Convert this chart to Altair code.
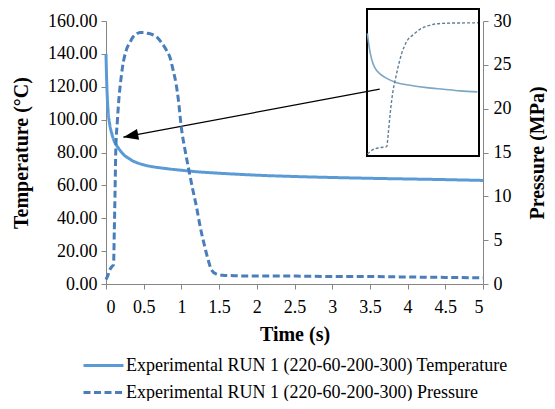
import altair as alt
import pandas as pd

# ---------------- data ----------------
T_NAME = "Experimental RUN 1 (220-60-200-300) Temperature"
P_NAME = "Experimental RUN 1 (220-60-200-300) Pressure"

temp_t = [0, 0.01, 0.02, 0.03, 0.05, 0.08, 0.1, 0.13, 0.16, 0.2, 0.25, 0.3, 0.35, 0.4,
          0.5, 0.6, 0.7, 0.8, 1.0, 1.2, 1.5, 2.0, 2.5, 3.0, 3.5, 4.0, 4.5, 5.0]
temp_v = [140, 122, 111, 104, 97, 91, 88, 85, 83, 80.5, 78, 76.5, 75, 74,
          72.5, 71.5, 70.8, 70.2, 69.2, 68.3, 67.4, 66.2, 65.4, 64.8, 64.3, 63.9, 63.5, 63.0]

pres_t = [0, 0.03, 0.05, 0.08, 0.1, 0.11, 0.12, 0.13, 0.15, 0.17, 0.2, 0.22, 0.27, 0.32,
          0.36, 0.4, 0.45, 0.5, 0.55, 0.6, 0.67, 0.74, 0.8, 0.85, 0.89, 0.93, 0.96, 1.0,
          1.05, 1.09, 1.15, 1.2, 1.25, 1.31, 1.36, 1.4, 1.46, 1.55, 1.7, 2.0, 2.5, 3.0,
          3.5, 4.0, 4.5, 5.0]
pres_v = [0.5, 1.1, 1.6, 2.0, 2.2, 6.0, 10.5, 15.3, 18.5, 21, 23.5, 24.8, 26.7, 27.6,
          28.2, 28.5, 28.7, 28.7, 28.6, 28.5, 28.2, 27.5, 26.7, 25.8, 24.4, 22.8, 21, 17.8,
          15.2, 13.4, 10.8, 8.8, 6.5, 4.25, 2.6, 1.6, 1.15, 1.0, 0.95, 0.9, 0.9, 0.85,
          0.85, 0.8, 0.75, 0.7]

# arrow (time, temperature) from inset to curve
arrow_tail = [3.63, 118.6]
arrow_tip = [0.23, 89.3]

# inset (zoomed picture), normalised 0-1 coordinates
inset_solid_x = [0.003, 0.021, 0.042, 0.071, 0.116, 0.176, 0.265, 0.384, 0.533, 0.681, 0.830, 0.985]
inset_solid_y = [0.834, 0.734, 0.656, 0.599, 0.559, 0.528, 0.499, 0.481, 0.465, 0.454, 0.443, 0.436]
inset_dash_x = [0.004, 0.045, 0.116, 0.176, 0.19, 0.205, 0.22, 0.235, 0.25, 0.277, 0.31, 0.354,
                0.414, 0.473, 0.533, 0.622, 0.741, 0.991]
inset_dash_y = [0.013, 0.040, 0.057, 0.064, 0.154, 0.275, 0.376, 0.456, 0.51, 0.604, 0.698, 0.779,
                0.826, 0.862, 0.883, 0.899, 0.904, 0.906]

C_T = "#5B9BD5"
C_P = "#4A7EBB"
FONT = "Liberation Serif"
W, H = 377, 263

temp_df = pd.DataFrame({"t": temp_t, "v": temp_v, "series": T_NAME})
pres_df = pd.DataFrame({"t": pres_t, "v": pres_v, "series": P_NAME})
arrow_df = pd.DataFrame({"t": [arrow_tail[0]], "v": [arrow_tail[1]],
                         "t2": [arrow_tip[0]], "v2": [arrow_tip[1]]})
tip_df = pd.DataFrame({"t": [arrow_tip[0]], "v": [arrow_tip[1]]})
in_s = pd.DataFrame({"x": inset_solid_x, "y": inset_solid_y})
in_d = pd.DataFrame({"x": inset_dash_x, "y": inset_dash_y})
in_box = pd.DataFrame({"x": [0.0], "x2": [1.0], "y": [0.0], "y2": [1.0]})

axis_common = dict(grid=False, domainColor="#868686", tickColor="#868686", tickSize=5,
                   labelFont=FONT, labelFontSize=18, labelColor="black",
                   titleFont=FONT, titleFontSize=20, titleFontWeight="bold", titleColor="black")

xscale = alt.Scale(domain=[0, 5], nice=False, zero=False)
x_axis = alt.Axis(values=[0, 0.5, 1, 1.5, 2, 2.5, 3, 3.5, 4, 4.5, 5], format="~g",
                  title="Time (s)", labelPadding=9, titlePadding=8, **axis_common)
tscale = alt.Scale(domain=[0, 160], nice=False)
pscale = alt.Scale(domain=[0, 30], nice=False)
t_axis = alt.Axis(values=list(range(0, 161, 20)), format=".2f", title="Temperature (°C)",
                  labelPadding=4, titlePadding=16, **axis_common)
p_axis = alt.Axis(orient="right", values=list(range(0, 31, 5)), title="Pressure (MPa)",
                  labelPadding=5, titlePadding=16, titleAngle=270, titleBaseline="top",
                  **axis_common)

legend_kw = dict(title=None, orient="none", legendX=-14, legendY=333,
                 symbolType="M-2,0L2,0", symbolSize=400, symbolStrokeWidth=3,
                 labelFont=FONT, labelFontSize=18, labelColor="black", labelLimit=0,
                 labelOffset=11, rowPadding=6, direction="vertical")
color = alt.Color("series:N", scale=alt.Scale(domain=[T_NAME, P_NAME], range=[C_T, C_P]),
                  legend=alt.Legend(**legend_kw))
dash = alt.StrokeDash("series:N", scale=alt.Scale(domain=[T_NAME, P_NAME], range=[[1, 0], [7, 3.5]]),
                      legend=alt.Legend(**legend_kw))

temp_line = alt.Chart(temp_df).mark_line(strokeWidth=3, interpolate="monotone").encode(
    x=alt.X("t:Q", scale=xscale, axis=x_axis),
    y=alt.Y("v:Q", scale=tscale, axis=t_axis),
    color=color, strokeDash=dash)

pres_line = alt.Chart(pres_df).mark_line(strokeWidth=3, interpolate="monotone").encode(
    x=alt.X("t:Q", scale=xscale, axis=x_axis),
    y=alt.Y("v:Q", scale=pscale, axis=p_axis),
    color=color, strokeDash=dash)

arrow_rule = alt.Chart(arrow_df).mark_rule(color="black", strokeWidth=1.2).encode(
    x=alt.X("t:Q", scale=xscale, axis=x_axis), x2="t2:Q",
    y=alt.Y("v:Q", scale=tscale, axis=t_axis), y2="v2:Q")

arrow_head = alt.Chart(tip_df).mark_point(
    shape="M0,0L-0.55,1.5L0.55,1.5Z", size=400, filled=True, color="black", opacity=1,
    angle=259).encode(
    x=alt.X("t:Q", scale=xscale, axis=x_axis),
    y=alt.Y("v:Q", scale=tscale, axis=t_axis))

# inset: own scales placed in the upper-right corner
ix = alt.Scale(domain=[0, 1], range=[261, 373], nice=False, zero=False)
iy = alt.Scale(domain=[0, 1], range=[135, -12], nice=False, zero=False)
inset_box = alt.Chart(in_box).mark_rect(fill="white", stroke="black", strokeWidth=2).encode(
    x=alt.X("x:Q", scale=ix, axis=None), x2="x2:Q",
    y=alt.Y("y:Q", scale=iy, axis=None), y2="y2:Q")
inset_s = alt.Chart(in_s).mark_line(color="#7BA7C4", strokeWidth=1.6, interpolate="monotone").encode(
    x=alt.X("x:Q", scale=ix, axis=None), y=alt.Y("y:Q", scale=iy, axis=None))
inset_d = alt.Chart(in_d).mark_line(color="#5F7E98", strokeWidth=1.4, strokeDash=[3, 2],
                                    interpolate="monotone").encode(
    x=alt.X("x:Q", scale=ix, axis=None), y=alt.Y("y:Q", scale=iy, axis=None))
inset = alt.layer(inset_box, inset_s, inset_d)

main = alt.layer(alt.layer(temp_line, arrow_rule, arrow_head), pres_line).resolve_scale(y="independent")

chart = alt.layer(inset, main).resolve_scale(x="independent", y="independent").properties(
    width=W, height=H,
    autosize=alt.AutoSizeParams(type="none"),
    padding={"left": 98, "top": 13, "right": 64, "bottom": 117},
).configure_view(stroke=None)

chart.save("out.html", embed_options={"renderer": "svg", "actions": False})
